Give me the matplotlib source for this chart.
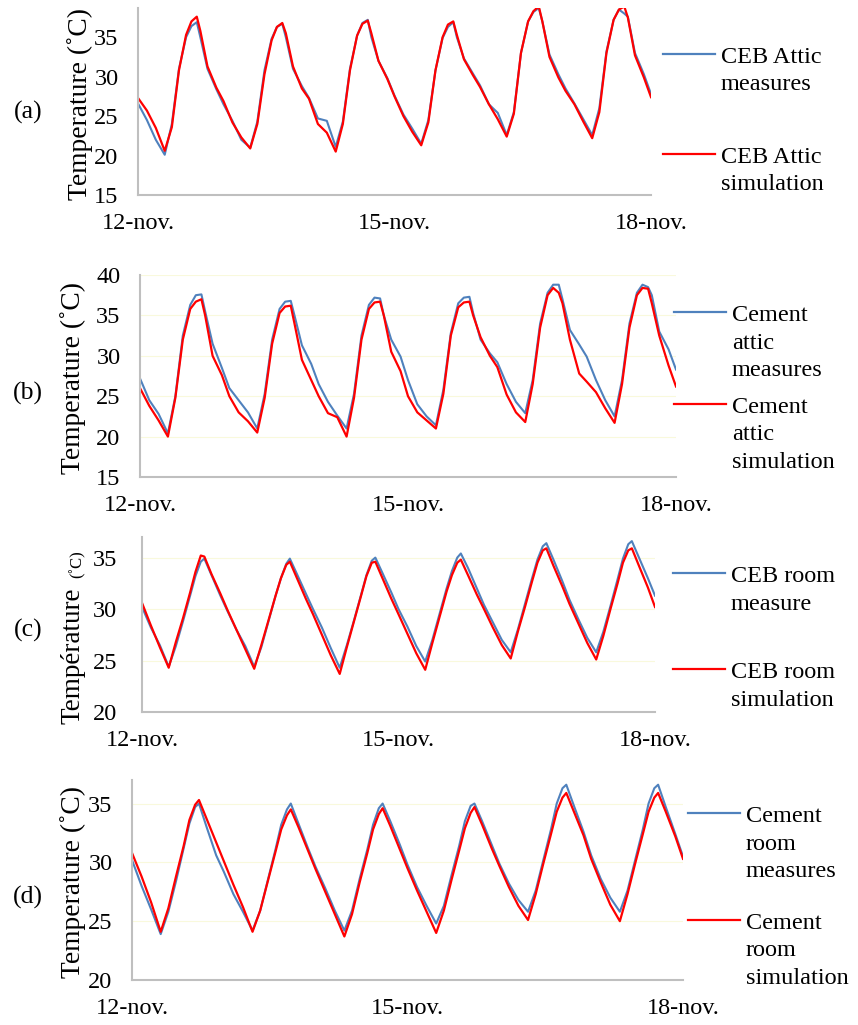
import matplotlib
matplotlib.use("Agg")
import matplotlib.pyplot as plt
from matplotlib.lines import Line2D

plt.rcParams["font.family"] = ["Liberation Serif", "DejaVu Serif"]

W, H = 858, 1025

# sample hours inside each day, repeated over 6 days (12-nov -> 18-nov)
hours_in_day = [0, 2.5, 5, 7.5, 9.5, 11.5, 13.5, 15, 16.5, 17.5, 19.5, 22]
hours = [day * 24 + h for day in range(6) for h in hours_in_day] + [144]

date_labels = ["12-nov.", "15-nov.", "18-nov."]
date_hours = [0, 72, 144]

# (a) CEB attic
a_meas = [
    26.6, 24.5, 22.0, 20.1, 24.0, 31.0, 35.0, 36.4, 36.9, 35.0, 31.0, 28.4,
    26.5, 24.4, 22.0, 21.0, 24.3, 30.8, 34.8, 36.3, 36.7, 35.0, 31.0, 28.8,
    27.3, 24.7, 24.4, 21.1, 24.3, 31.0, 35.2, 36.8, 37.2, 35.0, 32.0, 29.8,
    27.6, 25.2, 23.4, 21.5, 24.5, 30.8, 34.9, 36.3, 36.9, 35.0, 32.3, 30.4,
    28.9, 26.5, 25.4, 22.6, 25.5, 33.0, 37.0, 38.2, 38.7, 37.0, 32.8, 30.3,
    28.5, 26.6, 24.6, 22.6, 26.0, 33.2, 37.2, 38.5, 38.0, 37.6, 33.0, 30.3,
    27.8,
]
a_sim = [
    27.3, 25.7, 23.5, 20.6, 23.6, 30.8, 35.3, 37.0, 37.6, 35.8, 31.3, 28.6,
    26.9, 24.2, 22.3, 20.9, 24.0, 30.3, 34.6, 36.3, 36.8, 35.5, 31.3, 28.5,
    27.2, 24.0, 22.9, 20.5, 24.0, 30.8, 35.2, 36.7, 37.1, 35.5, 32.0, 29.7,
    27.5, 25.0, 23.0, 21.3, 24.2, 30.8, 35.0, 36.6, 37.0, 35.3, 32.2, 30.2,
    28.7, 26.5, 24.6, 22.4, 25.3, 33.0, 37.0, 38.3, 38.9, 37.0, 32.5, 29.9,
    28.2, 26.5, 24.3, 22.2, 25.5, 33.0, 37.2, 38.5, 38.9, 37.5, 32.7, 29.9,
    27.4,
]

# (b) cement attic
b_meas = [
    27.2, 24.5, 22.8, 20.4, 25.0, 32.5, 36.3, 37.5, 37.6, 35.5, 31.5, 28.5,
    26.0, 24.5, 23.0, 21.0, 25.3, 32.0, 35.8, 36.7, 36.8, 35.0, 31.3, 29.0,
    26.5, 24.3, 22.6, 21.0, 25.3, 32.5, 36.3, 37.2, 37.1, 35.0, 32.0, 29.9,
    27.0, 24.0, 22.5, 21.4, 25.8, 32.8, 36.5, 37.2, 37.3, 35.3, 32.0, 30.3,
    29.2, 26.5, 24.3, 22.9, 27.0, 34.0, 37.8, 38.8, 38.8, 37.0, 33.2, 31.4,
    29.9, 27.0, 24.5, 22.5, 27.0, 34.0, 37.8, 38.8, 38.5, 37.5, 33.0, 30.8,
    28.3,
]
b_sim = [
    26.0, 23.8, 22.0, 20.0, 24.8, 32.0, 35.8, 36.7, 37.0, 35.0, 30.0, 27.6,
    25.0, 23.0, 21.9, 20.5, 24.8, 31.5, 35.3, 36.1, 36.2, 34.0, 29.5, 27.0,
    25.0, 22.9, 22.4, 20.0, 24.8, 32.0, 35.8, 36.6, 36.7, 35.0, 30.5, 28.1,
    25.0, 23.0, 22.0, 21.0, 25.3, 32.5, 36.0, 36.6, 36.7, 35.0, 32.3, 30.0,
    28.6, 25.2, 23.0, 21.8, 26.5, 33.5, 37.5, 38.4, 37.8, 36.5, 32.0, 27.8,
    26.8, 25.5, 23.5, 21.7, 26.5, 33.5, 37.5, 38.4, 38.3, 36.5, 32.5, 28.8,
    26.2,
]

# (c) CEB room
c_meas = [
    30.2, 28.2, 26.5, 24.4, 26.4, 28.8, 31.3, 33.2, 34.6, 34.9, 33.3, 31.3,
    29.8, 28.0, 26.4, 24.4, 26.3, 28.8, 31.3, 33.0, 34.4, 34.9, 33.4, 31.5,
    30.0, 28.2, 26.2, 24.3, 26.5, 28.9, 31.4, 33.3, 34.7, 35.0, 33.5, 31.6,
    30.0, 28.3, 26.4, 24.9, 27.0, 29.5, 32.0, 33.7, 35.0, 35.4, 34.0, 32.0,
    30.4, 28.7, 27.0, 25.8, 28.0, 30.5, 33.0, 34.8, 36.1, 36.4, 34.8, 32.7,
    30.9, 29.0, 27.2, 25.8, 27.8, 30.3, 32.9, 34.9, 36.3, 36.6, 35.0, 33.0,
    31.3,
]
c_sim = [
    30.6, 28.4, 26.3, 24.3, 26.8, 29.1, 31.6, 33.6, 35.2, 35.1, 33.4, 31.5,
    29.9, 28.0, 26.1, 24.2, 26.5, 28.9, 31.3, 33.0, 34.3, 34.6, 33.0, 31.0,
    29.5, 27.5, 25.5, 23.7, 26.3, 28.8, 31.3, 33.2, 34.5, 34.6, 33.0, 31.0,
    29.5, 27.6, 25.7, 24.1, 26.7, 29.2, 31.7, 33.3, 34.5, 34.8, 33.3, 31.4,
    30.0, 28.2, 26.5, 25.2, 27.8, 30.2, 32.7, 34.5, 35.7, 35.9, 34.2, 32.2,
    30.5, 28.6, 26.7, 25.1, 27.4, 30.0, 32.5, 34.5, 35.7, 35.9, 34.2, 32.1,
    30.2,
]

# (d) cement room
d_meas = [
    30.2, 28.0, 26.0, 23.9, 25.8, 28.4, 31.2, 33.3, 34.7, 35.0, 33.0, 30.6,
    29.2, 27.3, 25.8, 24.2, 25.9, 28.5, 31.1, 33.2, 34.5, 35.0, 33.3, 31.2,
    29.6, 27.8, 25.9, 24.2, 25.9, 28.6, 31.1, 33.2, 34.6, 35.0, 33.5, 31.5,
    29.8, 27.9, 26.3, 24.8, 26.3, 28.9, 31.4, 33.5, 34.8, 35.0, 33.5, 31.5,
    29.9, 28.2, 26.8, 25.8, 27.6, 30.2, 32.8, 35.0, 36.3, 36.6, 34.8, 32.6,
    30.6, 28.6, 27.0, 25.8, 27.6, 30.2, 32.8, 35.0, 36.3, 36.6, 34.7, 32.4,
    30.5,
]
d_sim = [
    30.8, 28.8, 26.6, 24.1, 26.1, 28.8, 31.4, 33.6, 34.9, 35.3, 33.7, 31.7,
    30.1, 28.1, 26.2, 24.1, 25.9, 28.4, 30.9, 32.8, 34.0, 34.5, 33.0, 31.0,
    29.4, 27.5, 25.6, 23.7, 25.6, 28.3, 30.8, 32.8, 34.1, 34.6, 33.1, 31.1,
    29.5, 27.6, 25.8, 24.0, 25.9, 28.5, 31.0, 32.9, 34.2, 34.7, 33.2, 31.2,
    29.7, 27.9, 26.3, 25.1, 27.3, 29.9, 32.4, 34.3, 35.5, 35.9, 34.3, 32.3,
    30.3, 28.3, 26.4, 25.0, 27.3, 29.9, 32.4, 34.3, 35.5, 35.9, 34.3, 32.2,
    30.3,
]

meas_labels = ["CEB Attic\nmeasures", "Cement\nattic\nmeasures",
               "CEB room\nmeasure", "Cement\nroom\nmeasures"]
sim_labels = ["CEB Attic\nsimulation", "Cement\nattic\nsimulation",
              "CEB room\nsimulation", "Cement\nroom\nsimulation"]

BLUE = "#4F81BD"
RED = "#FF0000"
SPINE = "#BFBFBF"
GRID = "#F9F9DC"


def fx(px):
    return px / W


def fy(py):
    return 1 - py / H


# layout in pixels: axes box (left, top, right, bottom), label and key positions
layout = [
    dict(box=(138, 8, 651, 195), ylim=(15, 38.7), yticks=[15, 20, 25, 30, 35],
         grid=False, ypad=14, tag_y=112, ylab_x=80, key_x=663, key_y=(54, 154)),
    dict(box=(140, 275, 676, 477), ylim=(15, 40), yticks=[15, 20, 25, 30, 35, 40],
         grid=True, ypad=14, tag_y=393, ylab_x=73, key_x=674, key_y=(312, 404)),
    dict(box=(142, 537, 655, 712), ylim=(20, 37), yticks=[20, 25, 30, 35],
         grid=True, ypad=18, tag_y=630, ylab_x=73, key_x=673, key_y=(573, 669)),
    dict(box=(132, 780, 683, 980), ylim=(20, 37), yticks=[20, 25, 30, 35],
         grid=True, ypad=14, tag_y=897, ylab_x=73, key_x=688, key_y=(813, 920)),
]
series = [(a_meas, a_sim), (b_meas, b_sim), (c_meas, c_sim), (d_meas, d_sim)]
tags = ["(a)", "(b)", "(c)", "(d)"]

fig = plt.figure(figsize=(W / 100, H / 100), dpi=100)


def draw_key(x0, y, color, label):
    fig.add_artist(Line2D([fx(x0), fx(x0 + 52)], [fy(y), fy(y)],
                          color=color, lw=1.6, transform=fig.transFigure))
    for k, line in enumerate(label.split("\n")):
        fig.text(fx(x0 + 58), fy(y + 9 + k * 27.5), line, fontsize=17.5,
                 ha="left", va="baseline")


for i, cfg in enumerate(layout):
    left, top, right, bottom = cfg["box"]
    ax = fig.add_axes([fx(left), fy(bottom), fx(right - left), (bottom - top) / H])
    meas, sim = series[i]
    ax.plot(hours, meas, color=BLUE, lw=1.5)
    ax.plot(hours, sim, color=RED, lw=1.6)
    ax.set_xlim(0, 144)
    ax.set_ylim(*cfg["ylim"])
    ax.set_yticks(cfg["yticks"])
    ax.set_xticks(date_hours)
    ax.set_xticklabels(date_labels)
    ax.tick_params(length=0, labelsize=17.5)
    ax.tick_params(axis="x", pad=13)
    ax.tick_params(axis="y", pad=cfg["ypad"])
    for side in ["top", "right"]:
        ax.spines[side].set_visible(False)
    for side in ["left", "bottom"]:
        ax.spines[side].set_color(SPINE)
        ax.spines[side].set_linewidth(1.5)
    if cfg["grid"]:
        ax.yaxis.grid(True, color=GRID, lw=0.8)
        ax.set_axisbelow(True)
    ax.patch.set_alpha(0)

    fig.text(fx(28), fy(cfg["tag_y"]), tags[i], fontsize=18.5, ha="center", va="center")
    mid_y = (top + bottom) / 2
    if i == 2:
        fig.text(fx(cfg["ylab_x"]), fy(656), "Température", fontsize=19.5,
                 rotation=90, ha="center", va="center")
        fig.text(fx(77), fy(564), "(˚C)", fontsize=12,
                 rotation=90, ha="center", va="center")
    else:
        fig.text(fx(cfg["ylab_x"]), fy(mid_y + 2), "Temperature (˚C)", fontsize=19.8,
                 rotation=90, ha="center", va="center")

    draw_key(cfg["key_x"], cfg["key_y"][0], BLUE, meas_labels[i])
    draw_key(cfg["key_x"], cfg["key_y"][1], RED, sim_labels[i])

fig.savefig("out.png", dpi=100)
